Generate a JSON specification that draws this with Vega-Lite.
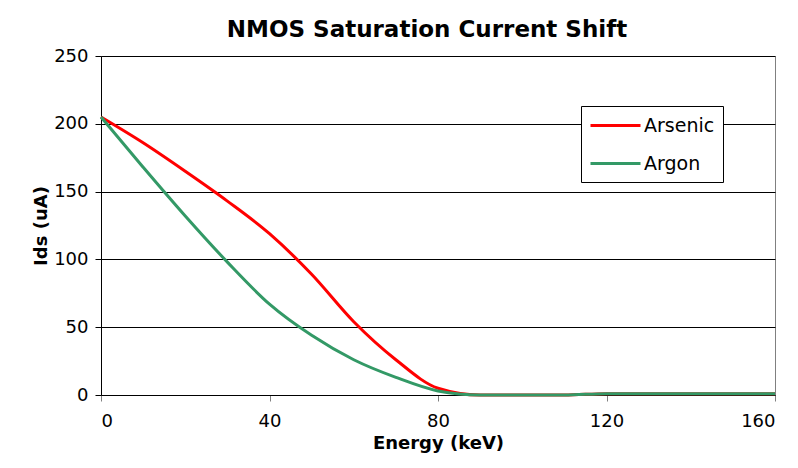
{
  "$schema": "https://vega.github.io/schema/vega-lite/v6.json",
  "width": 674,
  "height": 339,
  "autosize": "none",
  "padding": {"left": 101, "top": 56, "right": 23, "bottom": 73},
  "background": "white",
  "config": {
    "font": "DejaVu Sans",
    "view": {"stroke": "#808080", "strokeWidth": 1}
  },
  "title": {
    "text": "NMOS Saturation Current Shift",
    "font": "DejaVu Sans",
    "fontSize": 23,
    "fontWeight": "bold",
    "color": "black",
    "anchor": "middle",
    "dx": -11,
    "offset": 5
  },
  "data": {
    "values": [
      {"energy": 0, "ids": 205, "series": "Arsenic"},
      {"energy": 10, "ids": 186, "series": "Arsenic"},
      {"energy": 20, "ids": 165, "series": "Arsenic"},
      {"energy": 30, "ids": 143, "series": "Arsenic"},
      {"energy": 40, "ids": 119, "series": "Arsenic"},
      {"energy": 50, "ids": 89, "series": "Arsenic"},
      {"energy": 60, "ids": 54, "series": "Arsenic"},
      {"energy": 70, "ids": 26, "series": "Arsenic"},
      {"energy": 80, "ids": 5, "series": "Arsenic"},
      {"energy": 90, "ids": 0, "series": "Arsenic"},
      {"energy": 100, "ids": 0, "series": "Arsenic"},
      {"energy": 110, "ids": 0, "series": "Arsenic"},
      {"energy": 120, "ids": 1, "series": "Arsenic"},
      {"energy": 130, "ids": 1, "series": "Arsenic"},
      {"energy": 140, "ids": 1, "series": "Arsenic"},
      {"energy": 150, "ids": 1, "series": "Arsenic"},
      {"energy": 160, "ids": 1, "series": "Arsenic"},
      {"energy": 0, "ids": 205, "series": "Argon"},
      {"energy": 10, "ids": 168, "series": "Argon"},
      {"energy": 20, "ids": 132, "series": "Argon"},
      {"energy": 30, "ids": 98, "series": "Argon"},
      {"energy": 40, "ids": 67, "series": "Argon"},
      {"energy": 50, "ids": 44, "series": "Argon"},
      {"energy": 60, "ids": 26, "series": "Argon"},
      {"energy": 70, "ids": 13, "series": "Argon"},
      {"energy": 80, "ids": 3, "series": "Argon"},
      {"energy": 90, "ids": 0, "series": "Argon"},
      {"energy": 100, "ids": 0, "series": "Argon"},
      {"energy": 110, "ids": 0, "series": "Argon"},
      {"energy": 120, "ids": 1, "series": "Argon"},
      {"energy": 130, "ids": 1, "series": "Argon"},
      {"energy": 140, "ids": 1, "series": "Argon"},
      {"energy": 150, "ids": 1, "series": "Argon"},
      {"energy": 160, "ids": 1, "series": "Argon"}
    ]
  },
  "mark": {"type": "line", "strokeWidth": 3, "interpolate": "monotone"},
  "encoding": {
    "x": {
      "field": "energy",
      "type": "quantitative",
      "scale": {"domain": [0, 160], "nice": false, "zero": false},
      "axis": {
        "title": "Energy (keV)",
        "values": [0, 40, 80, 120, 160],
        "grid": false,
        "domainColor": "black",
        "tickColor": "#808080",
        "tickSize": 6,
        "labelFontSize": 18,
        "labelColor": "black",
        "labelPadding": 11,
        "titleFontSize": 18,
        "titleFontWeight": "bold",
        "titleColor": "black",
        "titlePadding": 4
      }
    },
    "y": {
      "field": "ids",
      "type": "quantitative",
      "scale": {"domain": [0, 250], "nice": false},
      "axis": {
        "title": "Ids (uA)",
        "values": [0, 50, 100, 150, 200, 250],
        "grid": true,
        "gridColor": "black",
        "gridWidth": 1,
        "domainColor": "black",
        "tickColor": "black",
        "tickSize": 6,
        "labelFontSize": 18,
        "labelColor": "black",
        "labelPadding": 7,
        "titleFontSize": 18,
        "titleFontWeight": "bold",
        "titleColor": "black",
        "titlePadding": 3
      }
    },
    "color": {
      "field": "series",
      "type": "nominal",
      "scale": {"domain": ["Arsenic", "Argon"], "range": ["#FF0000", "#339966"]},
      "legend": {
        "title": null,
        "orient": "none",
        "legendX": 480,
        "legendY": 50,
        "symbolType": "M-1,0H4",
        "symbolSize": 400,
        "symbolStrokeWidth": 3,
        "labelFontSize": 19,
        "labelColor": "black",
        "labelOffset": 32,
        "rowPadding": 16,
        "padding": 8,
        "strokeColor": "black",
        "fillColor": "white"
      }
    }
  }
}
